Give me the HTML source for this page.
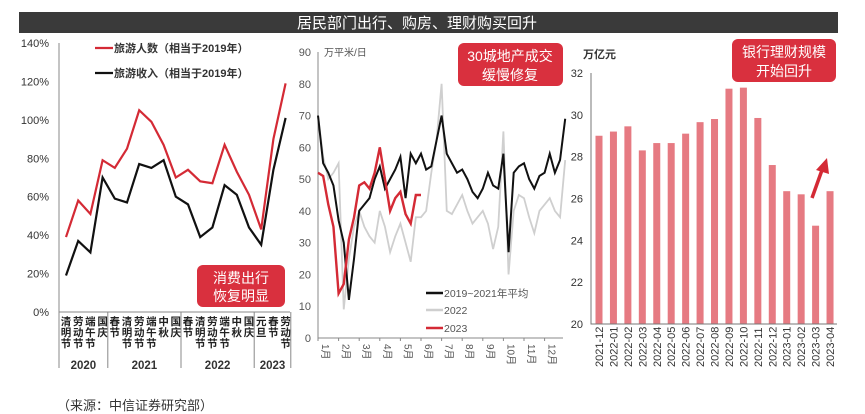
<!DOCTYPE html>
<html><head><meta charset="utf-8">
<style>
html,body{margin:0;padding:0;background:#fff;}
svg{display:block;font-family:"Liberation Sans","Noto Sans CJK SC",sans-serif;}
</style></head>
<body>
<svg id="root" width="865" height="414" viewBox="0 0 865 414" xmlns="http://www.w3.org/2000/svg">
  <rect x="19" y="12" width="819" height="21" fill="#3a3a3a"/>
  <text x="297" y="28" fill="#fff" font-size="15">居民部门出行、购房、理财购买回升</text>
  <text x="57" y="410" fill="#333" font-size="13">（来源：中信证券研究部）</text>
  <g id="c1"></g>
  <g id="c2"></g>
  <g id="c3"></g>
</svg>
<script>
// ---- Chart 1 data ----
const c1Cats = ["清明节","劳动节","端午节","国庆","春节","清明节","劳动节","端午节","中秋","国庆","春节","清明节","劳动节","端午节","中秋","国庆","元旦","春节","劳动节"];
const c1Years = ["2020","2021","2022","2023"];
const c1YearCounts = [4,6,6,3];
const c1Visitors = [39,58,51,79,75,85,105,99,87,70,74,68,67,87,73,61,43,90,119];
const c1Revenue = [19,37,31,70,59,57,77,75,79,60,56,39,44,66,61,44,35,74,101];
const c1Ticks = [0,20,40,60,80,100,120,140];
// ---- Chart 2 data (quarter-month samples) ----
const c2Months = ["1月","2月","3月","4月","5月","6月","7月","8月","9月","10月","11月","12月"];
const c2Ticks = [0,10,20,30,40,50,60,70,80,90];
const c2Avg = [70,55,52,48, 37,30,12,25, 40,42,44,50, 54,47,50,53, 57,44,58,55, 58,53,54,62, 70,58,55,52, 53,50,46,44, 47,52,48,47, 58,27,52,54, 55,50,47,51, 52,58,52,56, 69];
const c2Y2022 = [70,57,50,52, 55,9,25,35, 40,35,32,30, 40,35,27,32, 36,30,24,38, 38,40,52,62, 80,40,39,42, 45,40,36,38, 40,36,28,35, 65,20,40,45, 44,38,33,40, 42,44,40,38, 56];
const c2Y2023 = [52,51,42,35, 14,17,31,38, 48,49,47,52, 60,50,40,44, 46,39,36,45, 45];
// ---- Chart 3 data ----
const c3Cats = ["2021-12","2022-01","2022-02","2022-03","2022-04","2022-05","2022-06","2022-07","2022-08","2022-09","2022-10","2022-11","2022-12","2023-01","2023-02","2023-03","2023-04"];
const c3Vals = [29.0,29.2,29.45,28.3,28.65,28.65,29.1,29.65,29.8,31.25,31.3,29.85,27.6,26.35,26.2,24.7,26.35];
const c3Ticks = [20,22,24,26,28,30,32];

const NS="http://www.w3.org/2000/svg";
function mk(parent,tag,attrs,text){const e=document.createElementNS(NS,tag);for(const k in attrs)e.setAttribute(k,attrs[k]);if(text!==undefined)e.textContent=text;parent.appendChild(e);return e;}

// ===== Chart 1 =====
(function(){
  const g=document.getElementById('c1');
  const y=v=>312-(v/140)*269;
  const x=i=>66+i*12.2;
  c1Ticks.forEach(t=>{
    const tl=mk(g,'text',{x:49,y:y(t)+4,'font-size':11,fill:'#333','text-anchor':'end'},t+'%');
    
    
  });
  const ax=mk(g,'path',{d:'M59 43V312H290',stroke:'#888',fill:'none','stroke-width':1});
  
  
  c1Cats.forEach((c,i)=>{
    const t=mk(g,'text',{'font-size':10.5,fill:'#222','text-anchor':'middle','font-weight':'bold'});
    
    
    [...c].forEach((ch,k)=>{
      mk(t,'tspan',{x:x(i),y:325+k*11},ch);
    });
  });
  let s=0;
  const bx=i=>59+i*12.2;
  mk(g,'line',{x1:59,y1:312,x2:59,y2:368,stroke:'#888'});
  c1Years.forEach((yr,k)=>{
    const x0=bx(s), x1=bx(s+c1YearCounts[k]);
    s+=c1YearCounts[k];
    const l=mk(g,'line',{x1:x1,y1:312,x2:x1,y2:368,stroke:'#888'});
    
    
    const t=mk(g,'text',{x:(x0+x1)/2,y:369,'font-size':11.5,'font-weight':'bold',fill:'#333','text-anchor':'middle'},yr);
    
    
  });
  const pv=mk(g,'polyline',{points:c1Visitors.map((v,i)=>x(i)+','+y(v)).join(' '),fill:'none',stroke:'#d42a35','stroke-width':2.2});
  
  
  const pr=mk(g,'polyline',{points:c1Revenue.map((v,i)=>x(i)+','+y(v)).join(' '),fill:'none',stroke:'#111','stroke-width':2.2});
  
  
  [[48,'#d42a35','旅游人数（相当于2019年）'],[73,'#111','旅游收入（相当于2019年）']].forEach(([ly,c,txt])=>{
    const lg=mk(g,'g',{});
    
    
    mk(lg,'line',{x1:95,y1:ly,x2:113,y2:ly,stroke:c,'stroke-width':2.2});
    mk(lg,'text',{x:114,y:ly+4,'font-size':11,'font-weight':'bold',fill:'#333'},txt);
  });
  const ann=mk(g,'g',{});
  
  
  mk(ann,'rect',{x:197,y:265,width:88,height:42,rx:6,fill:'#d9303e'});
  mk(ann,'text',{x:241,y:283,'font-size':14,fill:'#fff','text-anchor':'middle'},'消费出行');
  mk(ann,'text',{x:241,y:301,'font-size':14,fill:'#fff','text-anchor':'middle'},'恢复明显');
})();

// ===== Chart 2 =====
(function(){
  const g=document.getElementById('c2');
  const y=v=>338-(v/90)*286;
  const mw=20.6;
  const x=q=>318+q*mw/4;
  c2Ticks.forEach(t=>{
    const tl=mk(g,'text',{x:311,y:y(t)+4,'font-size':11,fill:'#555','text-anchor':'end'},t);
    
    
  });
  const ax=mk(g,'path',{d:'M318 52V338H563',stroke:'#888',fill:'none'});
  
  
  const u=mk(g,'text',{x:324,y:56,'font-size':10,fill:'#555'},'万平米/日');
  
  
  c2Months.forEach((m,i)=>{
    mk(g,'line',{x1:x(i*4),y1:338,x2:x(i*4),y2:341,stroke:'#888'});
    const t=mk(g,'text',{transform:`translate(${x(i*4)+4},344) rotate(90)`,'font-size':10,fill:'#555'},m);
    
    
  });
  const l22=mk(g,'polyline',{points:c2Y2022.map((v,i)=>x(i)+','+y(v)).join(' '),fill:'none',stroke:'#cfcfcf','stroke-width':1.8});
  
  
  const la=mk(g,'polyline',{points:c2Avg.map((v,i)=>x(i)+','+y(v)).join(' '),fill:'none',stroke:'#111','stroke-width':2});
  
  
  const l23=mk(g,'polyline',{points:c2Y2023.map((v,i)=>x(i)+','+y(v)).join(' '),fill:'none',stroke:'#d42a35','stroke-width':2.4});
  
  
  [[293,'#111','2019~2021年平均'],[310,'#cfcfcf','2022'],[328,'#d42a35','2023']].forEach(([ly,c,txt])=>{
    const lg=mk(g,'g',{});
    
    
    mk(lg,'line',{x1:426,y1:ly,x2:443,y2:ly,stroke:c,'stroke-width':2.4});
    mk(lg,'text',{x:444,y:ly+4,'font-size':10.5,fill:'#555'},txt);
  });
  const ann=mk(g,'g',{});
  
  
  mk(ann,'rect',{x:458,y:43,width:105,height:43,rx:6,fill:'#d9303e'});
  mk(ann,'text',{x:510,y:61,'font-size':14,fill:'#fff','text-anchor':'middle'},'30城地产成交');
  mk(ann,'text',{x:510,y:80,'font-size':14,fill:'#fff','text-anchor':'middle'},'缓慢修复');
})();

// ===== Chart 3 =====
(function(){
  const g=document.getElementById('c3');
  const y=v=>324-((v-20)/12)*251;
  const x=i=>599+i*14.44;
  c3Ticks.forEach(t=>{
    const tl=mk(g,'text',{x:583,y:y(t)+4,'font-size':11,fill:'#333','text-anchor':'end'},t);
    
    
  });
  const u=mk(g,'text',{x:583,y:58,'font-size':11,'font-weight':'bold',fill:'#333'},'万亿元');
  
  
  c3Vals.forEach((v,i)=>{
    const r=mk(g,'rect',{x:x(i)-3.5,y:y(v),width:7,height:324-y(v),fill:'#e67a82'});
    
    
  });
  const ax=mk(g,'path',{d:'M591 73V324H837',stroke:'#777',fill:'none'});
  
  
  c3Cats.forEach((c,i)=>{
    const t=mk(g,'text',{transform:`translate(${x(i)+4},367) rotate(-90)`,'font-size':11,fill:'#333'},c);
    
    
  });
  const ann=mk(g,'g',{});
  
  
  mk(ann,'rect',{x:732,y:39,width:104,height:43,rx:6,fill:'#d9303e'});
  mk(ann,'text',{x:784,y:57,'font-size':14,fill:'#fff','text-anchor':'middle'},'银行理财规模');
  mk(ann,'text',{x:784,y:76,'font-size':14,fill:'#fff','text-anchor':'middle'},'开始回升');
  const ar=mk(g,'g',{});
  
  
  mk(ar,'line',{x1:812,y1:198,x2:822,y2:170,stroke:'#d42a35','stroke-width':3.5});
  mk(ar,'polygon',{points:'827,158 816,170 829,174',fill:'#d42a35'});
})();
</script>
</body></html>
